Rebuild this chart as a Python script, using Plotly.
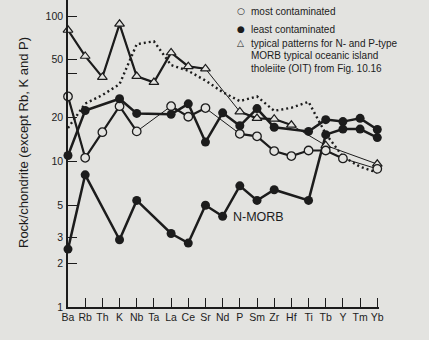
import plotly.graph_objects as go

# ---------------- data ----------------
elements = ['Ba', 'Rb', 'Th', 'K', 'Nb', 'Ta', 'La', 'Ce', 'Sr', 'Nd', 'P',
            'Sm', 'Zr', 'Hf', 'Ti', 'Tb', 'Y', 'Tm', 'Yb']
most_contaminated = [28, 10.6, 15.9, 24, 16.1, None, 24, 20.3, 23.3, None, 15.5,
                     14.9, 11.8, 10.9, 11.9, 11.9, 10.5, None, 8.9]
least_contaminated = [11, 22.4, None, 27, 21.4, None, 21.1, 24.9, 13.6, 21.6, 17.6,
                      23.1, 17.2, None, 16.1, 19.4, 18.8, 19.8, 16.6]
n_morb = [2.5, 8.1, None, 2.9, 5.4, None, 3.2, 2.75, 5.0, 4.2, 6.8,
          5.4, 6.4, None, 5.4, 15.3, 16.7, 16.7, 14.6]
p_morb = [80, 53, 38, 88, 38.5, 35, 56, 45, 43.4, None, 22,
          19.8, 19.6, 17.8, None, 12.9, None, None, 9.6]
oit = [17, 25, 28.6, 34, 64, 67, 46, 42, 36, 30, 26,
       28, 22.3, 23.4, 25.7, 15.5, 10.8, 9.2, 8.4]
y_tick_values = [1, 2, 3, 5, 10, 20, 40, 50, 100]
y_tick_labels = ['1', '2', '3', '5', '10', '20', '', '50', '100']

legend_lines = ['most contaminated', 'least contaminated',
                'typical patterns for N- and P-type',
                'MORB typical oceanic island',
                'tholeiite (OIT) from Fig. 10.16']

# ---------------- style ----------------
BG = '#e3e3e0'
INK = '#1c1c1c'
FONT = 'Liberation Sans, Arial, sans-serif'

x = list(range(len(elements)))
fig = go.Figure()

# OIT dotted pattern
fig.add_trace(go.Scatter(x=x, y=oit, mode='lines', cliponaxis=False,
                         line=dict(color=INK, width=2.4, dash='2px,3px'),
                         showlegend=False, hoverinfo='skip'))

# thin connectors across gaps
for series, w in [(most_contaminated, 1.0), (p_morb, 1.0)]:
    fig.add_trace(go.Scatter(x=x, y=series, mode='lines', connectgaps=True,
                             cliponaxis=False, line=dict(color=INK, width=w),
                             showlegend=False, hoverinfo='skip'))
# thick segments
fig.add_trace(go.Scatter(x=x, y=most_contaminated, mode='lines', connectgaps=False,
                         cliponaxis=False, line=dict(color=INK, width=2.2),
                         showlegend=False, hoverinfo='skip'))
fig.add_trace(go.Scatter(x=x, y=p_morb, mode='lines', connectgaps=False,
                         cliponaxis=False, line=dict(color=INK, width=2.2),
                         showlegend=False, hoverinfo='skip'))
for series in (least_contaminated, n_morb):
    fig.add_trace(go.Scatter(x=x, y=series, mode='lines', connectgaps=True,
                             cliponaxis=False, line=dict(color=INK, width=2.5),
                             showlegend=False, hoverinfo='skip'))

# markers
fig.add_trace(go.Scatter(x=x, y=p_morb, mode='markers', cliponaxis=False,
                         marker=dict(symbol='triangle-up', size=8.5, color=BG,
                                     line=dict(color=INK, width=1.2)),
                         showlegend=False))
fig.add_trace(go.Scatter(x=x, y=most_contaminated, mode='markers', cliponaxis=False,
                         marker=dict(symbol='circle', size=8.5, color=BG,
                                     line=dict(color=INK, width=1.3)),
                         showlegend=False))
for series in (least_contaminated, n_morb):
    fig.add_trace(go.Scatter(x=x, y=series, mode='markers', cliponaxis=False,
                             marker=dict(symbol='circle', size=9, color=INK,
                                         line=dict(color=INK, width=0)),
                             showlegend=False))

# ---------------- layout ----------------
L, R, T, B = 68, 50, 0, 33
W, H = 429, 340
pw, ph = W - L - R, H - T - B


def px(xp):
    return (xp - L) / pw


def py(yp):
    return (H - B - yp) / ph


ann = []
# legend symbols & texts
sym = ['○', '●', '△']
sym_y = [11, 29, 43]
for s, yy in zip(sym, sym_y):
    ann.append(dict(x=px(240.5), y=py(yy), xref='paper', yref='paper', text=s,
                    showarrow=False, xanchor='center', yanchor='middle',
                    font=dict(family='DejaVu Sans', size=9, color=INK)))
text_y = [11, 29, 43.3, 56, 68.8]
for t, yy in zip(legend_lines, text_y):
    ann.append(dict(x=px(248.5), y=py(yy), xref='paper', yref='paper', text=t,
                    showarrow=False, xanchor='left', yanchor='middle',
                    font=dict(family=FONT, size=10, color=INK)))
# N-MORB label
ann.append(dict(x=px(231), y=py(217), xref='paper', yref='paper', text='N-MORB',
                showarrow=False, xanchor='left', yanchor='middle',
                font=dict(family=FONT, size=12.5, color=INK)))
# y axis title
ann.append(dict(x=px(23), y=py(143), xref='paper', yref='paper',
                text='Rock/chondrite (except Rb, K and P)', textangle=-90,
                showarrow=False, xanchor='center', yanchor='middle',
                font=dict(family=FONT, size=13, color=INK)))

fig.update_layout(
    width=W, height=H,
    margin=dict(l=L, r=R, t=T, b=B, pad=0),
    paper_bgcolor=BG, plot_bgcolor=BG,
    font=dict(family=FONT, size=10, color=INK),
    annotations=ann,
    showlegend=False,
    xaxis=dict(range=[0, 18.1], tickmode='array', tickvals=x, ticktext=elements,
               ticks='inside', ticklen=9, tickwidth=1.3, tickcolor=INK,
               showline=True, linecolor=INK, linewidth=1.6, showgrid=False,
               zeroline=False, tickfont=dict(size=10.5, color=INK),
               ticklabelstandoff=0),
    yaxis=dict(type='log', range=[0, 2.11], tickmode='array',
               tickvals=y_tick_values, ticktext=y_tick_labels,
               ticks='inside', ticklen=9, tickwidth=1.3, tickcolor=INK,
               showline=True, linecolor=INK, linewidth=1.6, showgrid=False,
               zeroline=False, tickfont=dict(size=10.5, color=INK),
               ticklabelstandoff=1),
)

fig.write_html('out.html')
